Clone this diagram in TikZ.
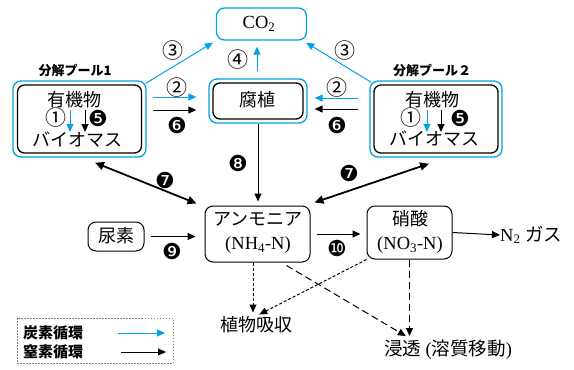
\documentclass[tikz,border=0pt]{standalone}
\usepackage{fontspec}
\setmainfont{Liberation Serif}
\newfontfamily\jp{Noto Sans CJK JP}
\newfontfamily\dv{DejaVu Sans}
\usetikzlibrary{arrows.meta,calc}
\definecolor{cblue}{RGB}{0,163,232}
\begin{document}
\begin{tikzpicture}[x=1pt,y=-1pt,
  outerbox/.style={draw=cblue, line width=1.3pt, rounded corners=8pt, inner sep=0pt},
  innerbox/.style={draw=black, line width=1.3pt, rounded corners=7pt, inner sep=0pt},
  kbox/.style={draw=black, line width=1pt, rounded corners=8pt, inner sep=0pt, align=center},
  jt/.style={font=\jp\fontsize{18}{26}\selectfont, inner sep=0pt, align=center},
  st/.style={font=\fontsize{18.5}{26}\selectfont, inner sep=0pt, align=center},
  poolttl/.style={font=\jp\bfseries\fontsize{13}{13}\selectfont, inner sep=0pt},
  legt/.style={font=\jp\bfseries\fontsize{15}{15}\selectfont, inner sep=0pt, anchor=west},
  num/.style={font=\jp\fontsize{21}{21}\selectfont, inner sep=0pt},
  bnum/.style={font=\dv\fontsize{22}{22}\selectfont, inner sep=0pt},
  tip/.style={-{Triangle[length=8pt,width=7pt]}},
  barrow/.style={draw=cblue, line width=1pt, tip},
  karrow/.style={draw=black, line width=1pt, tip},
  dblarrow/.style={draw=black, line width=1.8pt, {Triangle[length=9pt,width=8pt]}-{Triangle[length=9pt,width=8pt]}},
  sdash/.style={karrow, dash pattern=on 3pt off 2pt},
  ldash/.style={karrow, dash pattern=on 7pt off 4pt}
]
\useasboundingbox (0,0) rectangle (574,370);

% boxes
\node[outerbox, minimum width=90pt, minimum height=32pt] (co2) at (261.5,24) {};
\node[st] (co2t) at (259,24) {CO\textsubscript{2}};

\node[outerbox, minimum width=98pt, minimum height=44pt] (huo) at (258,101) {};
\node[innerbox, minimum width=90pt, minimum height=36pt] (hu) at (258,101) {};
\node[jt] (hut) at (257,100) {腐植};

\node[outerbox, minimum width=133pt, minimum height=76pt] (p1o) at (79.5,119) {};
\node[innerbox, minimum width=124pt, minimum height=68pt] (p1) at (79.5,119) {};
\node[jt] (p1a) at (75,100) {有機物};
\node[jt] (p1b) at (77.5,140) {バイオマス};
\node[num] (p1n1) at (56,118) {①};
\node[bnum] (p1n5) at (98,118) {❺};
\node[poolttl] (p1t) at (75,71) {分解プール1};

\node[outerbox, minimum width=132pt, minimum height=76pt] (p2o) at (436,119) {};
\node[innerbox, minimum width=124pt, minimum height=68pt] (p2) at (436,119) {};
\node[jt] (p2a) at (432,100) {有機物};
\node[jt] (p2b) at (434,139) {バイオマス};
\node[num] (p2n1) at (411,118) {①};
\node[bnum] (p2n5) at (460,118) {❺};
\node[poolttl] (p2t) at (432,71) {分解プール２};

\node[kbox, minimum width=105pt, minimum height=56pt] (amm) at (257.5,234) {};
\node[jt] (amma) at (258,219) {アンモニア};
\node[st] (ammb) at (258,245) {(NH\textsubscript{4}-N)};

\node[kbox, minimum width=85pt, minimum height=53pt] (nit) at (409.5,232.5) {};
\node[jt] (nita) at (410,219) {硝酸};
\node[st] (nitb) at (410,245) {(NO\textsubscript{3}-N)};

\node[kbox, minimum width=56pt, minimum height=29pt] (uro) at (116,236.5) {};
\node[jt] (urot) at (116,236) {尿素};

\node[st, anchor=west] (n2) at (500,235) {N\textsubscript{2} {\jp ガス}};
\node[jt] (plant) at (256,325) {植物吸収};
\node[st] (leach) at (448,350) {{\jp 浸透} ({\jp 溶質移動})};

% pool inner arrows
\coordinate (p1bs) at (70,110); \coordinate (p1be) at (70,132);
\coordinate (p1ks) at (85,110); \coordinate (p1ke) at (85,132);
\draw[barrow] (p1bs) -- (p1be);
\draw[karrow] (p1ks) -- (p1ke);
\coordinate (p2bs) at (427,110); \coordinate (p2be) at (427,132);
\coordinate (p2ks) at (441,110); \coordinate (p2ke) at (441,132);
\draw[barrow] (p2bs) -- (p2be);
\draw[karrow] (p2ks) -- (p2ke);

% carbon arrows
\draw[barrow] ($(p1o.north east)+(-1,3)$) -- ($(co2.south west)+(-3,2)$);
\draw[barrow] ($(p2o.north west)+(2,2)$) -- ($(co2.south east)+(-1,2)$);
\draw[barrow] ($(huo.north)+(-1,-7)$) -- ($(huo.north |- co2.south)+(-1,6)$);
\draw[barrow] ($(p1o.east)+(6,-22)$) -- ($(huo.west)+(-12,-4)$);
\draw[barrow] ($(p2o.west)+(-11,-21)$) -- ($(huo.east)+(7,-3)$);

% nitrogen arrows
\draw[karrow] ($(p1o.east)+(6,-9)$) -- ($(huo.west)+(-12,9)$);
\draw[karrow] ($(p2o.west)+(-11,-10)$) -- ($(huo.east)+(7,8)$);
\draw[karrow] (huo.south) -- ($(huo.south |- amm.north)+(0,-4)$);
\draw[dblarrow] ($(p1o.south)+(15.5,5)$) -- ($(amm.north west)+(-8,-2)$);
\draw[dblarrow] ($(amm.north east)+(4,-3)$) -- ($(p2o.south)+(-7,6)$);
\draw[karrow] ($(uro.east)+(6,0)$) -- ($(amm.west |- uro.east)+(-9,0)$);
\draw[karrow] ($(amm.east)+(6,0)$) -- ($(nit.west |- amm.east)+(-6,0)$);
\draw[karrow] (nit.east) -- (n2.west);

% dashed
\draw[sdash] ($(amm.south)+(-4.5,0)$) -- ($(amm.south)+(-4.5,50)$);
\draw[sdash] (nit.south west) -- ($(plant.north east)+(-33,-2)$);
\draw[ldash] ($(amm.south east)+(-24,3)$) -- ($(leach.north west)+(22,-4)$);
\draw[ldash] (nit.south) -- ($(nit.south |- leach.north)+(0,-4)$);

% labels
\node[num] (l3a) at (173,51) {③};
\node[num] (l3b) at (345,51) {③};
\node[num] (l4) at (238,60) {④};
\node[num] (l2a) at (177,88) {②};
\node[num] (l2b) at (337,88) {②};
\node[bnum] (l6a) at (177,125) {❻};
\node[bnum] (l6b) at (337,125) {❻};
\node[bnum] (l8) at (238,163) {❽};
\node[bnum] (l7a) at (165,180) {❼};
\node[bnum] (l7b) at (349,173) {❼};
\node[bnum] (l9) at (172,251) {❾};
\node[bnum] (l10) at (337,248) {❿};

% legend
\node[draw=gray, line width=0.8pt, dash pattern=on 1.5pt off 1.5pt, minimum width=156pt, minimum height=45pt, inner sep=0pt] (leg) at (95,340.5) {};
\node[legt] (legc) at (23,333) {炭素循環};
\node[legt] (legn) at (23,352) {窒素循環};
\coordinate (lcs) at (118,333); \coordinate (lce) at (165,333);
\coordinate (lns) at (121,352); \coordinate (lne) at (166,352);
\draw[barrow] (lcs) -- (lce);
\draw[karrow] (lns) -- (lne);
\end{tikzpicture}
\end{document}
